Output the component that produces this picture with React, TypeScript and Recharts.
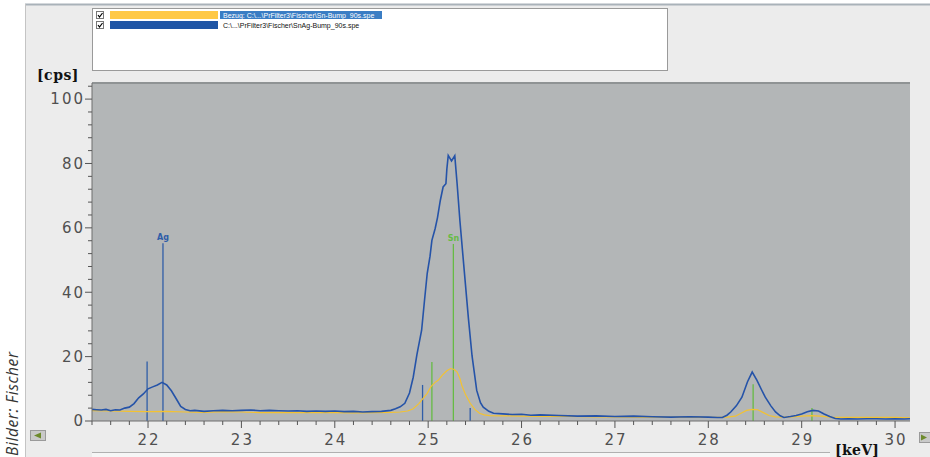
import React from "react";
import {
  LineChart,
  Line,
  XAxis,
  YAxis,
  CartesianGrid,
  ReferenceLine,
} from "recharts";

// SnAg-Bump spectrum (blue)
const blueKeV = [
  21.4, 21.45, 21.5, 21.55, 21.6, 21.65, 21.7, 21.75, 21.8, 21.85, 21.9, 21.95,
  22.0, 22.05, 22.1, 22.15, 22.2, 22.25, 22.3, 22.35, 22.4, 22.45, 22.5, 22.6,
  22.7, 22.8, 22.9, 23.0, 23.1, 23.2, 23.3, 23.4, 23.5, 23.6, 23.7, 23.8, 23.9,
  24.0, 24.1, 24.2, 24.3, 24.4, 24.5, 24.6, 24.65, 24.7, 24.75, 24.8, 24.84,
  24.88, 24.93, 24.96, 24.99, 25.02, 25.04, 25.075, 25.1, 25.13, 25.16, 25.19,
  25.2, 25.215, 25.25, 25.285, 25.31, 25.34, 25.38, 25.43, 25.47, 25.52, 25.56,
  25.59, 25.65, 25.7, 25.8, 25.9, 26.0, 26.1, 26.2, 26.4, 26.6, 26.8, 27.0,
  27.2, 27.4, 27.6, 27.8, 28.0, 28.1, 28.15, 28.2, 28.24, 28.3, 28.36, 28.42,
  28.47, 28.52, 28.57, 28.61, 28.67, 28.72, 28.77, 28.81, 28.88, 28.94, 29.0,
  29.06, 29.12, 29.18, 29.24, 29.3, 29.36, 29.42, 29.5, 29.6, 29.7, 29.8, 29.9,
  30.0, 30.1, 30.16,
];
const blueCps = [
  3.6, 3.5, 3.4, 3.6, 3.2, 3.5, 3.4, 4.0, 4.3, 5.4, 7.2, 8.4,
  10.0, 10.6, 11.2, 12.0, 11.2, 9.4, 7.0, 4.5, 3.6, 3.2, 3.3, 3.0,
  3.2, 3.3, 3.2, 3.3, 3.4, 3.2, 3.3, 3.2, 3.1, 3.2, 3.0, 3.1, 3.0,
  3.1, 2.9, 3.0, 2.8, 2.9, 3.0, 3.3, 3.8, 4.4, 5.5, 8.7, 13.6,
  20.7, 28.2, 37.2, 45.9, 51.2, 56.1, 59.8, 63.2, 68.5, 72.7, 73.7,
  78.2, 82.5, 80.8, 82.4, 73.7, 62.2, 48.8, 32.2, 20.2, 9.5, 5.7,
  4.3, 3.0, 2.4, 2.2, 2.0, 2.1, 1.8, 1.9, 1.7, 1.5, 1.6, 1.4,
  1.5, 1.3, 1.2, 1.3, 1.2, 1.1, 1.1, 1.8, 2.8, 4.7, 7.4, 12.2,
  15.2, 12.7, 9.7, 7.4, 4.7, 2.8, 1.6, 1.1, 1.4, 1.7, 2.2,
  2.9, 3.3, 3.1, 2.2, 1.4, 0.8, 0.6, 0.7, 0.6, 0.7, 0.7, 0.6,
  0.7, 0.6, 0.7,
];

// Sn-Bump reference spectrum (yellow)
const yellowKeV = [
  21.4, 21.6, 21.8, 22.0, 22.2, 22.4, 22.6, 22.8, 23.0, 23.2, 23.4, 23.6, 23.8,
  24.0, 24.2, 24.4, 24.6, 24.7, 24.78, 24.84, 24.9, 24.95, 24.99, 25.03, 25.075,
  25.11, 25.15, 25.2, 25.24, 25.28, 25.31, 25.34, 25.36, 25.4, 25.45, 25.5,
  25.55, 25.6, 25.66, 25.8, 26.0, 26.2, 26.5, 26.8, 27.0, 27.3, 27.6, 27.9,
  28.1, 28.2, 28.29, 28.35, 28.41, 28.47, 28.53, 28.59, 28.65, 28.72, 28.8,
  28.9, 29.0, 29.1, 29.2, 29.3, 29.45, 29.6, 29.8, 30.0, 30.16,
];
const yellowCps = [
  3.2, 3.1, 3.0, 2.9, 3.0, 2.8, 2.7, 2.9, 2.8, 2.6, 2.7, 2.6, 2.7,
  2.6, 2.5, 2.6, 2.7, 2.8, 3.1, 3.8, 5.4, 7.2, 8.6, 10.7, 12.0,
  12.7, 14.2, 15.6, 16.3, 16.0, 15.2, 13.2, 11.1, 8.2, 5.5, 3.6,
  2.4, 1.9, 1.7, 1.6, 1.5, 1.4, 1.4, 1.3, 1.3, 1.2, 1.2, 1.1,
  1.1, 1.2, 1.5, 2.4, 3.3, 3.6, 3.5, 2.6, 1.7, 1.3, 1.2,
  1.3, 1.5, 1.7, 1.5, 1.2, 1.1, 1.1, 1.1, 1.1, 1.0,
];

// element marker lines
const markerKeV = [21.99, 22.16, 24.94, 25.04, 25.27, 25.45, 28.48, 29.11];
const markerCps = [18.5, 55.2, 11.2, 18.3, 55.0, 4.0, 11.4, 4.0];
const markerElement = ["Ag", "Ag", "Ag", "Sn", "Sn", "Ag", "Sn", "Sn"];
const markerLabel = ["", "Ag", "", "", "Sn", "", "", ""];

const xTicks = [
  21.4, 21.6, 21.8, 22, 22.2, 22.4, 22.6, 22.8, 23, 23.2, 23.4, 23.6, 23.8, 24,
  24.2, 24.4, 24.6, 24.8, 25, 25.2, 25.4, 25.6, 25.8, 26, 26.2, 26.4, 26.6,
  26.8, 27, 27.2, 27.4, 27.6, 27.8, 28, 28.2, 28.4, 28.6, 28.8, 29, 29.2, 29.4,
  29.6, 29.8, 30,
];
const yTicks = [
  0, 4, 8, 12, 16, 20, 24, 28, 32, 36, 40, 44, 48, 52, 56, 60, 64, 68, 72, 76,
  80, 84, 88, 92, 96, 100, 104,
];

const blueData = blueKeV.map((k, i) => ({ kev: k, cps: blueCps[i] }));
const yellowData = yellowKeV.map((k, i) => ({ kev: k, cps: yellowCps[i] }));

const ELEMENT_COLORS: Record<string, string> = { Ag: "#2f5da8", Sn: "#66bb44" };

const tickFont = {
  fontFamily: "DejaVu Sans",
  fontSize: 15,
  letterSpacing: 2,
  fill: "#505050",
};

const XTick = (props: any) => {
  const { x, y, payload } = props;
  const major = Math.abs(payload.value - Math.round(payload.value)) < 0.01;
  return (
    <g>
      <line x1={x} x2={x} y1={y} y2={y + (major ? 7 : 4)} stroke="#555" />
      {major && (
        <text x={x + 1} y={y + 24} textAnchor="middle" {...tickFont}>
          {Math.round(payload.value)}
        </text>
      )}
    </g>
  );
};

const YTick = (props: any) => {
  const { x, y, payload } = props;
  const major = payload.value % 20 === 0;
  return (
    <g>
      <line x1={x} x2={x - (major ? 7 : 4)} y1={y} y2={y} stroke="#555" />
      {major && (
        <text x={x - 7} y={y} dy="0.36em" textAnchor="end" {...tickFont}>
          {payload.value}
        </text>
      )}
    </g>
  );
};

const CheckBox = ({ x, y }: { x: number; y: number }) => (
  <g>
    <rect x={x + 0.5} y={y + 0.5} width={7} height={7} fill="#fff" stroke="#777" />
    <path d={`M${x + 2} ${y + 4} L${x + 3.5} ${y + 6} L${x + 6.5} ${y + 2}`} stroke="#000" fill="none" strokeWidth={1.2} />
  </g>
);

export default function App() {
  return (
    <div
      style={{
        position: "fixed",
        left: 0,
        top: 0,
        width: 930,
        height: 457,
        background: "#ffffff",
        overflow: "hidden",
      }}
    >
      <svg width={930} height={457} style={{ position: "absolute", left: 0, top: 0 }}>
        <rect x={25} y={4} width={905} height={453} fill="#ececec" />
        <line x1={25} x2={930} y1={4.5} y2={4.5} stroke="#a9b2b9" strokeWidth={2} />
        <line x1={25.5} x2={25.5} y1={4} y2={457} stroke="#c4c4c4" />
        <line x1={92} x2={830} y1={452.5} y2={452.5} stroke="#b0b0b0" />
        <rect x={92} y={453} width={738} height={4} fill="#f6f6f6" />

        {/* legend box */}
        <rect x={92.5} y={8.5} width={575} height={62} fill="#fff" stroke="#9a9a9a" />
        <CheckBox x={96} y={11} />
        <rect x={110} y={11} width={108} height={8} fill="#ffc947" />
        <rect x={220} y={11} width={162} height={8} fill="#3a7dc4" />
        <text x={223} y={17.5} fontFamily="Liberation Sans" fontSize={7} fill="#fff">
          Bezug: C:\...\PrFilter3\Fischer\Sn-Bump_90s.spe
        </text>
        <CheckBox x={96} y={21} />
        <rect x={110} y={21} width={108} height={8} fill="#1f55a5" />
        <text x={223} y={27.5} fontFamily="Liberation Sans" fontSize={7} fill="#111">
          C:\...\PrFilter3\Fischer\SnAg-Bump_90s.spe
        </text>

        <text x={37} y={80} fontFamily="DejaVu Serif" fontWeight="bold" fontSize={14} letterSpacing={0.5} fill="#111">
          [cps]
        </text>
        <text x={835} y={455} fontFamily="DejaVu Serif" fontWeight="bold" fontSize={14} letterSpacing={0.3} fill="#111">
          [keV]
        </text>

        {/* scroll buttons */}
        <rect x={30.5} y={430.5} width={15} height={10} fill="#c9c9c9" stroke="#9a9a9a" />
        <path d="M34 435.5 L41 432.5 L41 438.5 Z" fill="#6d8a2c" />
        <rect x={919.5} y={432.5} width={12} height={10} fill="#c9c9c9" stroke="#9a9a9a" />
        <path d="M927 437.5 L921 434.5 L921 440.5 Z" fill="#6d8a2c" />

        <text
          transform="translate(18,456) rotate(-90)"
          fontFamily="Open Sans"
          fontStyle="italic"
          fontSize={15.5}
          letterSpacing={0.6}
          fill="#333"
        >
          Bilder: Fischer
        </text>
      </svg>

      <div style={{ position: "absolute", left: 0, top: 0 }}>
        <LineChart
          width={930}
          height={457}
          margin={{ top: 83, right: 20, bottom: 0, left: 32 }}
        >
          <CartesianGrid fill="#b3b6b7" horizontal={false} vertical={false} />
          <XAxis
            type="number"
            dataKey="kev"
            domain={[21.4, 30.16]}
            allowDataOverflow
            ticks={xTicks}
            interval={0}
            height={36}
            tickSize={0}
            tickMargin={0}
            tickLine={false}
            axisLine={{ stroke: "#6e6e6e" }}
            tick={<XTick />}
          />
          <YAxis
            type="number"
            domain={[0, 105]}
            allowDataOverflow
            ticks={yTicks}
            interval={0}
            width={60}
            tickSize={0}
            tickMargin={0}
            tickLine={false}
            axisLine={{ stroke: "#6e6e6e" }}
            tick={<YTick />}
          />
          <ReferenceLine y={105} stroke="#8f9394" strokeWidth={2} />
          {markerKeV.map((k, i) => (
            <ReferenceLine
              key={`m-${i}`}
              segment={[
                { x: k, y: 0 },
                { x: k, y: markerCps[i] },
              ]}
              stroke={ELEMENT_COLORS[markerElement[i]]}
              strokeWidth={1.3}
              label={
                markerLabel[i]
                  ? {
                      value: markerLabel[i],
                      position: "top",
                      offset: 3,
                      fill: ELEMENT_COLORS[markerElement[i]],
                      fontSize: 8,
                      fontWeight: "bold",
                      fontFamily: "DejaVu Sans",
                    }
                  : undefined
              }
            />
          ))}
          <Line
            data={yellowData}
            dataKey="cps"
            type="linear"
            stroke="#f3c232"
            strokeWidth={1.2}
            dot={false}
            isAnimationActive={false}
          />
          <Line
            data={blueData}
            dataKey="cps"
            type="linear"
            stroke="#2553a8"
            strokeWidth={1.6}
            dot={false}
            isAnimationActive={false}
          />
        </LineChart>
      </div>
    </div>
  );
}
